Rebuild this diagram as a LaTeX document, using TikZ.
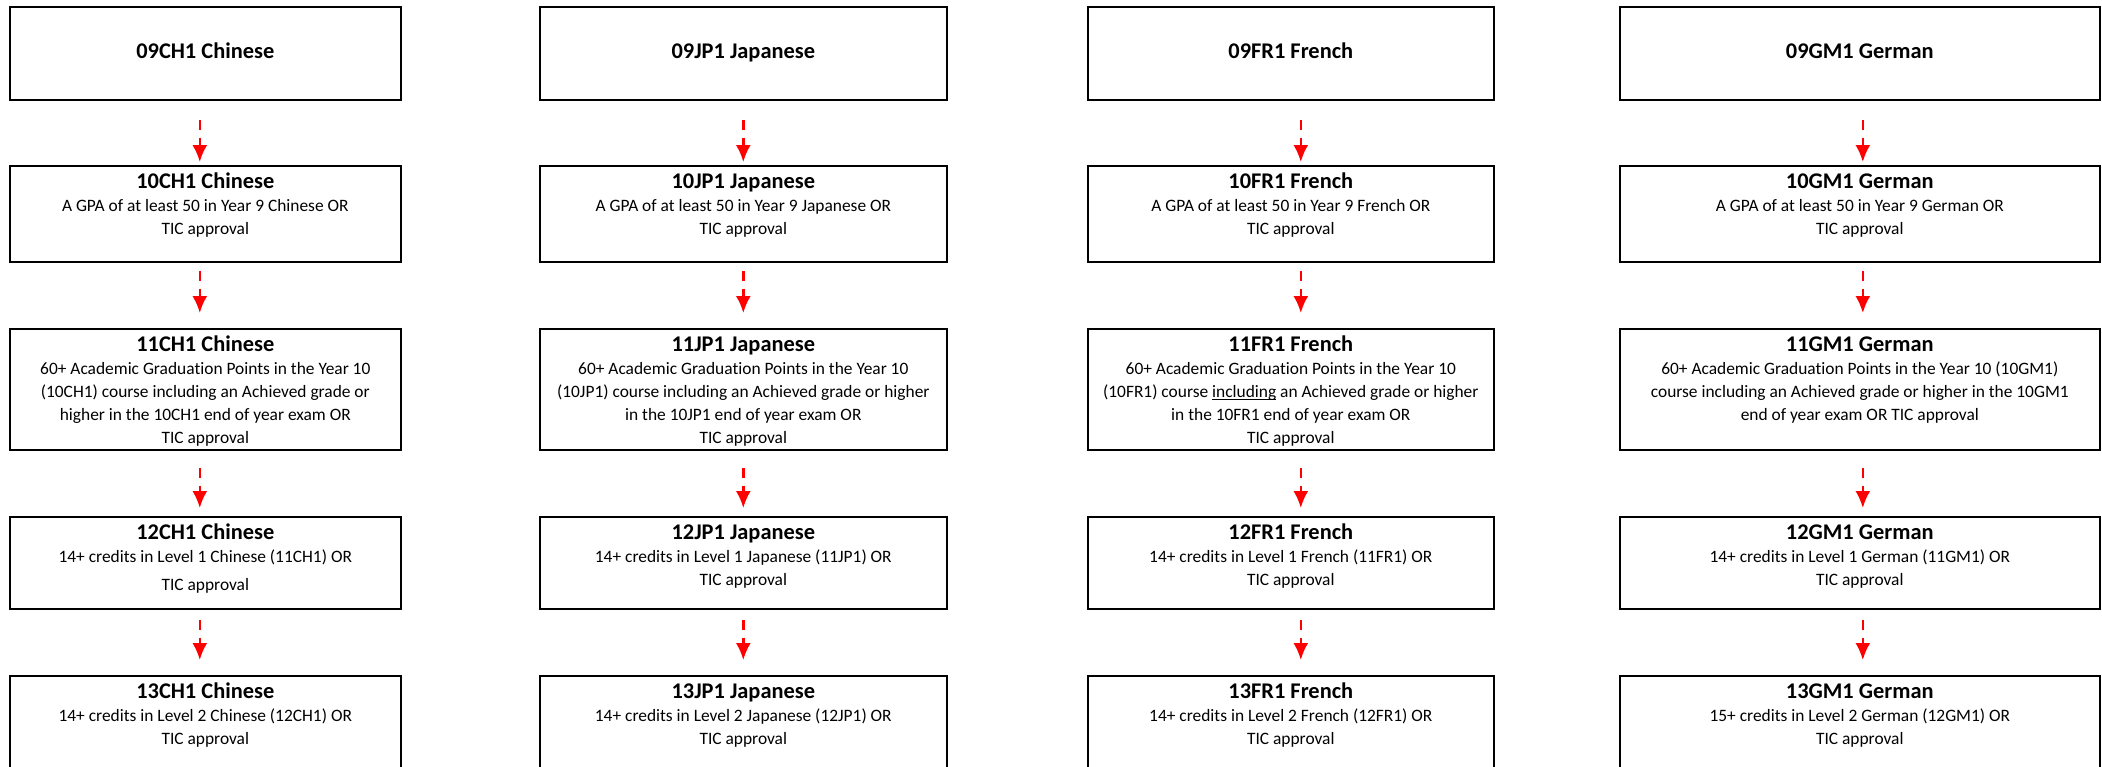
\documentclass[tikz,border=0pt]{standalone}
\usepackage{fontspec}
\setmainfont{Carlito}[Ligatures=NoCommon]
\usetikzlibrary{arrows.meta}
\newcommand\crshead[2]{\parbox[c][46.5pt][c]{#1}{\centering\bfseries\fontsize{11.2}{13}\selectfont\strut #2}}
\newcommand\crsbody[4]{\parbox[c][#2][t]{#1}{\centering\fontsize{8.7}{11.5}\selectfont
  {\bfseries\fontsize{11.2}{11.5}\selectfont\rule{0pt}{11.5pt}#3}\\#4}}
\newcommand\undl[1]{\setbox0\hbox{#1}\rlap{\rule[-1.3pt]{\wd0}{0.5pt}}\box0\relax}
\begin{document}
\begin{tikzpicture}[x=0.5pt, y=-0.5pt, >={Latex[length=8.5pt,width=7.5pt]},
  course/.style={draw, line width=0.8pt, inner sep=0pt, anchor=north west},
  link/.style={->, red, line width=1.2pt, dash pattern=on 5pt off 4pt on 40pt}]
\useasboundingbox (0,0) rectangle (2102,766);
\clip (0,0) rectangle (2102,766);
\pgfmathsetmacro\wch{195.5}
\pgfmathsetmacro\wjp{203.5}
\pgfmathsetmacro\wfr{203}
\pgfmathsetmacro\wgm{240}

\node[course] (ch09) at (9,6) {\crshead{\wch pt}{09CH1 Chinese}};
\node[course] (ch10) at (9,165) {\crsbody{\wch pt}{48pt}{10CH1 Chinese}{A GPA of at least 50 in Year 9 Chinese OR\\TIC approval}};
\node[course] (ch11) at (9,328) {\crsbody{\wch pt}{60.5pt}{11CH1 Chinese}{60+ Academic Graduation Points in the Year 10\\(10CH1) course including an Achieved grade or\\higher in the 10CH1 end of year exam OR\\TIC approval}};
\node[course] (ch12) at (9,516) {\crsbody{\wch pt}{46pt}{12CH1 Chinese}{14+ credits in Level 1 Chinese (11CH1) OR\\[2.5pt]TIC approval}};
\node[course] (ch13) at (9,675) {\crsbody{\wch pt}{60pt}{13CH1 Chinese}{14+ credits in Level 2 Chinese (12CH1) OR\\TIC approval}};

\node[course] (jp09) at (539,6) {\crshead{\wjp pt}{09JP1 Japanese}};
\node[course] (jp10) at (539,165) {\crsbody{\wjp pt}{48pt}{10JP1 Japanese}{A GPA of at least 50 in Year 9 Japanese OR\\TIC approval}};
\node[course] (jp11) at (539,328) {\crsbody{\wjp pt}{60.5pt}{11JP1 Japanese}{60+ Academic Graduation Points in the Year 10\\(10JP1) course including an Achieved grade or higher\\in the 10JP1 end of year exam OR\\TIC approval}};
\node[course] (jp12) at (539,516) {\crsbody{\wjp pt}{46pt}{12JP1 Japanese}{14+ credits in Level 1 Japanese (11JP1) OR\\TIC approval}};
\node[course] (jp13) at (539,675) {\crsbody{\wjp pt}{60pt}{13JP1 Japanese}{14+ credits in Level 2 Japanese (12JP1) OR\\TIC approval}};

\node[course] (fr09) at (1087,6) {\crshead{\wfr pt}{09FR1 French}};
\node[course] (fr10) at (1087,165) {\crsbody{\wfr pt}{48pt}{10FR1 French}{A GPA of at least 50 in Year 9 French OR\\TIC approval}};
\node[course] (fr11) at (1087,328) {\crsbody{\wfr pt}{60.5pt}{11FR1 French}{60+ Academic Graduation Points in the Year 10\\(10FR1) course \undl{including} an Achieved grade or higher\\in the 10FR1 end of year exam OR\\TIC approval}};
\node[course] (fr12) at (1087,516) {\crsbody{\wfr pt}{46pt}{12FR1 French}{14+ credits in Level 1 French (11FR1) OR\\TIC approval}};
\node[course] (fr13) at (1087,675) {\crsbody{\wfr pt}{60pt}{13FR1 French}{14+ credits in Level 2 French (12FR1) OR\\TIC approval}};

\node[course] (gm09) at (1619,6) {\crshead{\wgm pt}{09GM1 German}};
\node[course] (gm10) at (1619,165) {\crsbody{\wgm pt}{48pt}{10GM1 German}{A GPA of at least 50 in Year 9 German OR\\TIC approval}};
\node[course] (gm11) at (1619,328) {\crsbody{\wgm pt}{60.5pt}{11GM1 German}{60+ Academic Graduation Points in the Year 10 (10GM1)\\course including an Achieved grade or higher in the 10GM1\\end of year exam OR TIC approval}};
\node[course] (gm12) at (1619,516) {\crsbody{\wgm pt}{46pt}{12GM1 German}{14+ credits in Level 1 German (11GM1) OR\\TIC approval}};
\node[course] (gm13) at (1619,675) {\crsbody{\wgm pt}{60pt}{13GM1 German}{15+ credits in Level 2 German (12GM1) OR\\TIC approval}};

\draw[link, shorten <=9.5pt, shorten >=1.5pt] ([xshift=-2.75pt]ch09.south) -- ([xshift=-2.75pt]ch10.north);
\draw[link, shorten <=4pt, shorten >=7.5pt] ([xshift=-2.75pt]ch10.south) -- ([xshift=-2.75pt]ch11.north);
\draw[link, shorten <=8.5pt, shorten >=4pt] ([xshift=-2.75pt]ch11.south) -- ([xshift=-2.75pt]ch12.north);
\draw[link, shorten <=5pt, shorten >=7.5pt] ([xshift=-2.75pt]ch12.south) -- ([xshift=-2.75pt]ch13.north);

\draw[link, shorten <=9.5pt, shorten >=1.5pt] (jp09.south) -- (jp10.north);
\draw[link, shorten <=4pt, shorten >=7.5pt] (jp10.south) -- (jp11.north);
\draw[link, shorten <=8.5pt, shorten >=4pt] (jp11.south) -- (jp12.north);
\draw[link, shorten <=5pt, shorten >=7.5pt] (jp12.south) -- (jp13.north);

\draw[link, shorten <=9.5pt, shorten >=1.5pt] ([xshift=5pt]fr09.south) -- ([xshift=5pt]fr10.north);
\draw[link, shorten <=4pt, shorten >=7.5pt] ([xshift=5pt]fr10.south) -- ([xshift=5pt]fr11.north);
\draw[link, shorten <=8.5pt, shorten >=4pt] ([xshift=5pt]fr11.south) -- ([xshift=5pt]fr12.north);
\draw[link, shorten <=5pt, shorten >=7.5pt] ([xshift=5pt]fr12.south) -- ([xshift=5pt]fr13.north);

\draw[link, shorten <=9.5pt, shorten >=1.5pt] ([xshift=1.5pt]gm09.south) -- ([xshift=1.5pt]gm10.north);
\draw[link, shorten <=4pt, shorten >=7.5pt] ([xshift=1.5pt]gm10.south) -- ([xshift=1.5pt]gm11.north);
\draw[link, shorten <=8.5pt, shorten >=4pt] ([xshift=1.5pt]gm11.south) -- ([xshift=1.5pt]gm12.north);
\draw[link, shorten <=5pt, shorten >=7.5pt] ([xshift=1.5pt]gm12.south) -- ([xshift=1.5pt]gm13.north);
\end{tikzpicture}
\end{document}
